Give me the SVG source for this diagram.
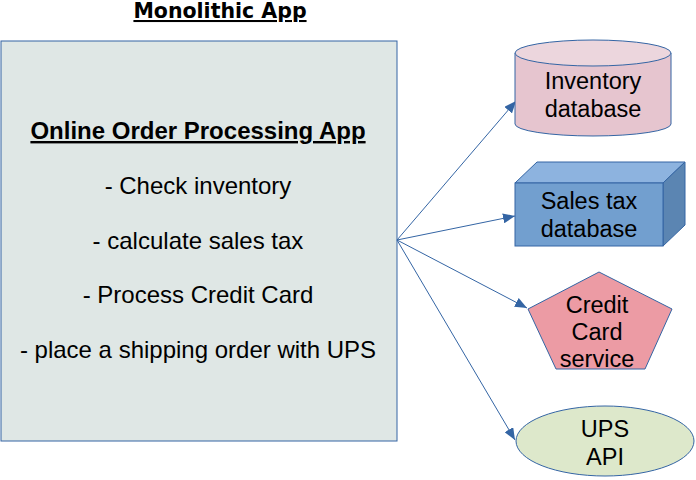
<svg xmlns="http://www.w3.org/2000/svg" width="696" height="480" viewBox="0 0 696 480">
<style>
.t{font-family:"Liberation Sans",Arial,sans-serif;font-size:24px;fill:#000;text-anchor:middle}
.n{font-size:23.5px}
.b{font-weight:bold;text-decoration:underline}
.s{stroke:#3465a4;stroke-width:1}
.c{stroke:#3465a4;stroke-width:1;fill:none;marker-end:url(#ah)}
</style>
<defs>
<marker id="ah" markerWidth="12" markerHeight="10" refX="12" refY="5" orient="auto" markerUnits="userSpaceOnUse">
<path d="M0,0 L12,5 L0,10 Z" fill="#3465a4"/>
</marker>
</defs>
<text class="t b" x="220" y="18" style="font-family:'DejaVu Sans',sans-serif;font-size:20.5px">Monolithic App</text>
<g id="app">
<rect class="s" x="1" y="41" width="396" height="400" fill="#dfe7e5"/>
<text class="t b" x="198" y="139">Online Order Processing App</text>
<text class="t" x="198" y="194">- Check inventory</text>
<text class="t" x="198" y="249">- calculate sales tax</text>
<text class="t" x="198" y="303">- Process Credit Card</text>
<text class="t" x="198" y="358">- place a shipping order with UPS</text>
</g>
<g id="connectors">
<line class="c" x1="397" y1="240" x2="516" y2="101"/>
<line class="c" x1="397" y1="240" x2="515" y2="216"/>
<line class="c" x1="397" y1="240" x2="527" y2="308"/>
<line class="c" x1="397" y1="240" x2="515" y2="440"/>
</g>
<g id="inventory">
<path class="s" d="M515,53 L515,124 A78,12 0 0 0 671,124 L671,53" fill="#e6c5cf"/>
<ellipse class="s" cx="593" cy="53" rx="78" ry="13" fill="#ecd6dd"/>
<text class="t n" x="593" y="89">Inventory</text>
<text class="t n" x="593" y="117">database</text>
</g>
<g id="salestax">
<path class="s" d="M515,183 L537,162 L685,162 L663,183 Z" fill="#8db3df"/>
<path class="s" d="M663,183 L685,162 L685,225 L663,246 Z" fill="#5b85b2"/>
<rect class="s" x="515" y="183" width="148" height="63" fill="#729fcf"/>
<text class="t n" x="589" y="209">Sales tax</text>
<text class="t n" x="589" y="237">database</text>
</g>
<g id="credit">
<polygon class="s" points="599,272 672,309 645,369 556,369 528,309" fill="#ec9ba4"/>
<text class="t n" x="597" y="313">Credit</text>
<text class="t n" x="597" y="340">Card</text>
<text class="t n" x="597" y="367">service</text>
</g>
<g id="ups">
<ellipse class="s" cx="605" cy="441" rx="89" ry="35" fill="#dde8cb"/>
<text class="t n" x="605" y="437">UPS</text>
<text class="t n" x="605" y="465">API</text>
</g>
</svg>
